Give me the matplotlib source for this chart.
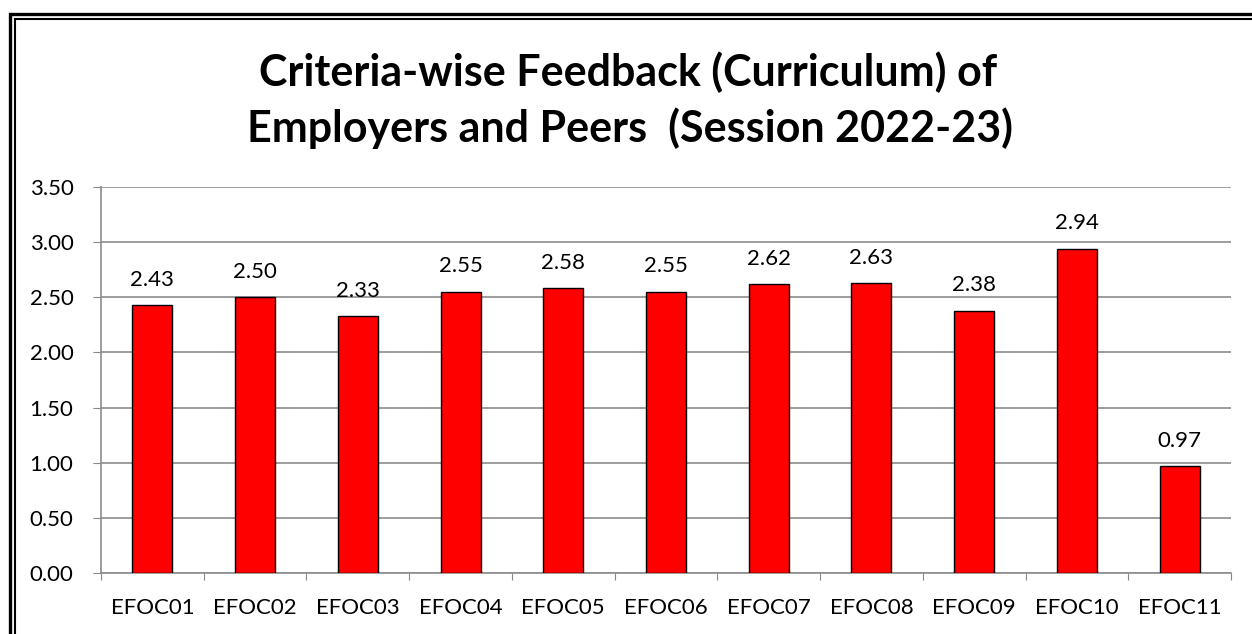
import matplotlib.pyplot as plt
from matplotlib.patches import Rectangle

categories = ["EFOC01", "EFOC02", "EFOC03", "EFOC04", "EFOC05", "EFOC06",
              "EFOC07", "EFOC08", "EFOC09", "EFOC10", "EFOC11"]
values = [2.43, 2.50, 2.33, 2.55, 2.58, 2.55, 2.62, 2.63, 2.38, 2.94, 0.97]
yticks = [0.0, 0.5, 1.0, 1.5, 2.0, 2.5, 3.0, 3.5]

plt.rcParams['font.family'] = ['Lato', 'DejaVu Sans']

W, H = 1252, 634
fig = plt.figure(figsize=(W / 100, H / 100), dpi=100)

# double frame around the chart (left offset, top offset, width)
for left, top, lw in [(9.5, 14, 2.4), (14.5, 18.5, 1.5)]:
    fig.patches.append(Rectangle((left / W, -0.2), 2.0, (H - top) / H + 0.2,
                                 transform=fig.transFigure, fill=False,
                                 edgecolor="black", linewidth=lw))

ax = fig.add_axes([101 / W, (H - 573) / H, (1231 - 101) / W, (573 - 187) / H])
x = range(len(categories))
ax.bar(x, values, width=0.39, color="#ff0000", edgecolor="black", linewidth=1, zorder=3)
for i, v in enumerate(values):
    ax.annotate(f"{v:.2f}", (i, v), xytext=(0, 11), textcoords="offset points",
                ha="center", va="bottom", fontsize=16)

ax.set_xlim(-0.5, len(categories) - 0.5)
ax.set_ylim(0, 3.5)
ax.set_yticks(yticks)
ax.set_yticklabels([f"{t:.2f}" for t in yticks], fontsize=16)
ax.set_xticks([i - 0.5 for i in range(len(categories) + 1)], minor=False)
ax.set_xticklabels([])
ax.set_xticks(list(x), minor=True)
ax.set_xticklabels(categories, minor=True, fontsize=16)
ax.tick_params(axis="x", which="major", length=5, color="#888888")
ax.tick_params(axis="x", which="minor", length=0, pad=18)
ax.tick_params(axis="y", length=5.8, color="#888888", pad=14)
ax.grid(axis="y", color="#8c8c8c", linewidth=1.2, zorder=0)
for s in ["top", "right"]:
    ax.spines[s].set_visible(False)
for s in ["left", "bottom"]:
    ax.spines[s].set_color("#8c8c8c")
    ax.spines[s].set_linewidth(1.2)

fig.text(628 / W, 1 - 86 / H, "Criteria-wise Feedback (Curriculum) of",
         ha="center", va="baseline", fontsize=31, fontweight="bold")
fig.text(630 / W, 1 - 142 / H, "Employers and Peers  (Session 2022-23)",
         ha="center", va="baseline", fontsize=31, fontweight="bold")

fig.savefig("out.png", dpi=100)
